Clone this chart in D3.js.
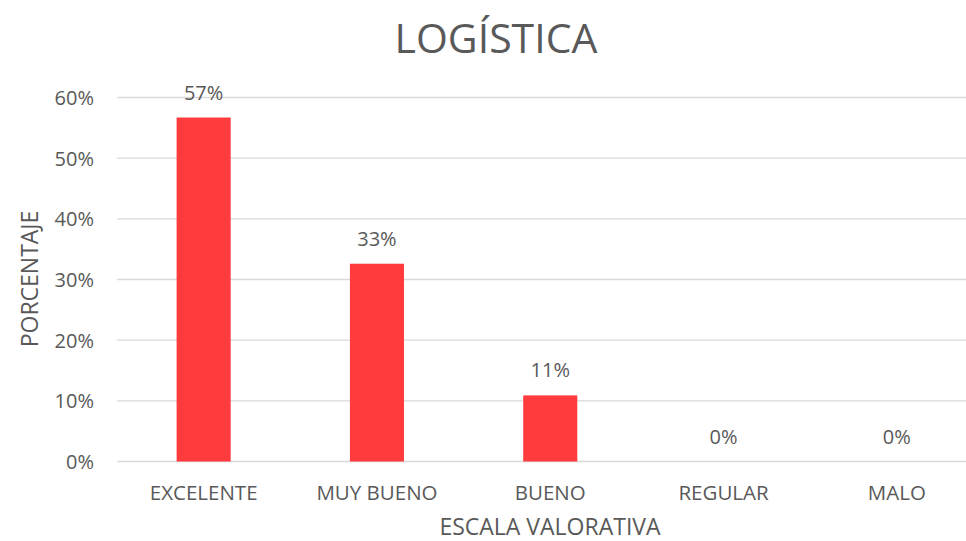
<!DOCTYPE html>
<html>
<head>
<meta charset="utf-8">
<script src="https://cdn.jsdelivr.net/npm/d3@7"></script>
<style>
  body { margin: 0; background: #fff; }
  text { font-family: "Open Sans", sans-serif; fill: #595959; }
</style>
</head>
<body>
<div id="chart"></div>
<script>
// chart data
const categories = ["EXCELENTE", "MUY BUENO", "BUENO", "REGULAR", "MALO"];
const values = [0.567, 0.326, 0.109, 0, 0];
const yTicks = [0, 0.1, 0.2, 0.3, 0.4, 0.5, 0.6];

const W = 966, H = 541;
const margin = { top: 97.5, right: -17.5, bottom: 79.5, left: 117 };

const svg = d3.select("#chart").append("svg")
  .attr("width", W)
  .attr("height", H);

const x = d3.scaleBand()
  .domain(categories)
  .range([margin.left, W - margin.right])
  .paddingInner(0.688)
  .paddingOuter(0.344);

const y = d3.scaleLinear()
  .domain([0, 0.6])
  .range([H - margin.bottom, margin.top]);

// gridlines
svg.append("g")
  .selectAll("line")
  .data(yTicks)
  .join("line")
  .attr("x1", margin.left)
  .attr("x2", W)
  .attr("y1", d => y(d))
  .attr("y2", d => y(d))
  .attr("stroke", "#d9d9d9")
  .attr("stroke-width", 1.3);

// y axis labels
const yAxis = svg.append("g")
  .attr("transform", `translate(${margin.left - 23},0)`)
  .call(d3.axisLeft(y).tickValues(yTicks).tickFormat(d3.format(".0%")).tickSize(0).tickPadding(0));
yAxis.select(".domain").remove();
yAxis.selectAll("text")
  .attr("font-size", 20)
  .attr("dy", "0.35em")
  .style("font-family", "'Open Sans', sans-serif")
  .attr("fill", "#595959");

// bars
svg.append("g")
  .selectAll("rect")
  .data(values)
  .join("rect")
  .attr("x", (d, i) => x(categories[i]))
  .attr("y", d => y(d))
  .attr("width", x.bandwidth())
  .attr("height", d => y(0) - y(d))
  .attr("fill", "#ff3b3d");

// value labels
svg.append("g")
  .selectAll("text")
  .data(values)
  .join("text")
  .attr("x", (d, i) => x(categories[i]) + x.bandwidth() / 2)
  .attr("y", d => y(d) - 18)
  .attr("text-anchor", "middle")
  .attr("font-size", 20)
  .text(d => d3.format(".0%")(d));

// x axis labels
const xAxis = svg.append("g")
  .attr("transform", `translate(0,${H - margin.bottom})`)
  .call(d3.axisBottom(x).tickSize(0).tickPadding(0));
xAxis.select(".domain").remove();
xAxis.selectAll("text")
  .attr("y", 38)
  .attr("dy", 0)
  .attr("font-size", 20.5)
  .style("font-family", "'Open Sans', sans-serif")
  .attr("fill", "#595959");

// title
svg.append("text")
  .attr("x", 496)
  .attr("y", 53)
  .attr("text-anchor", "middle")
  .attr("font-size", 41)
  .text("LOGÍSTICA");

// axis titles
svg.append("text")
  .attr("x", 550)
  .attr("y", 535)
  .attr("text-anchor", "middle")
  .attr("font-size", 23)
  .text("ESCALA VALORATIVA");

svg.append("text")
  .attr("transform", "translate(38,279) rotate(-90)")
  .attr("text-anchor", "middle")
  .attr("font-size", 23)
  .text("PORCENTAJE");
</script>
</body>
</html>
